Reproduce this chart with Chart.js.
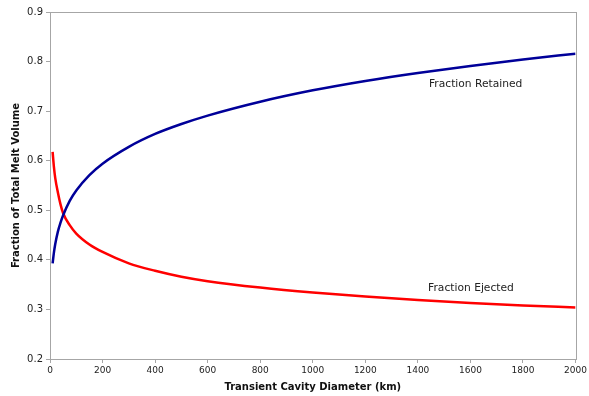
<!DOCTYPE html>
<html>
<head>
<meta charset="utf-8">
<script src="https://cdn.jsdelivr.net/npm/chart.js@4"></script>
<style>
  html, body { margin: 0; padding: 0; background: #fff; }
  #wrap { width: 589px; height: 396px; }
</style>
</head>
<body>
<div id="wrap"><canvas id="myChart"></canvas></div>
<script>
const diameters = [10, 15, 20, 30, 40, 50, 75, 100, 150, 200, 300, 400, 500, 600, 800, 1000, 1200, 1400, 1600, 1800, 2000];
const retained = [0.393, 0.415, 0.432, 0.457, 0.475, 0.490, 0.519, 0.540, 0.571, 0.594, 0.628, 0.654, 0.674, 0.691, 0.719, 0.742, 0.761, 0.777, 0.791, 0.804, 0.816];
const ejected  = [0.618, 0.587, 0.565, 0.536, 0.512, 0.494, 0.470, 0.453, 0.431, 0.416, 0.393, 0.378, 0.366, 0.357, 0.344, 0.334, 0.326, 0.319, 0.313, 0.308, 0.304];
const xTicks = [0, 200, 400, 600, 800, 1000, 1200, 1400, 1600, 1800, 2000];
const yTicks = [0.2, 0.3, 0.4, 0.5, 0.6, 0.7, 0.8, 0.9];

const font = 'Verdana, "DejaVu Sans", sans-serif';

// frame around plot area + curve labels
const extras = {
  id: 'extras',
  afterDraw(chart) {
    const ctx = chart.ctx;
    const a = chart.chartArea;
    const x = chart.scales.x, y = chart.scales.y;
    ctx.save();
    ctx.strokeStyle = '#a6a6a6';
    ctx.lineWidth = 1;
    ctx.strokeRect(Math.round(a.left) + 0.5, Math.round(a.top) + 0.5,
      Math.round(a.right - a.left), Math.round(a.bottom - a.top));
    ctx.fillStyle = '#222';
    ctx.font = '10.7px ' + font;
    ctx.textAlign = 'center';
    ctx.textBaseline = 'middle';
    ctx.fillText('Fraction Retained', x.getPixelForValue(1620), y.getPixelForValue(0.754));
    ctx.fillText('Fraction Ejected', x.getPixelForValue(1602), y.getPixelForValue(0.343));
    ctx.restore();
  }
};

const data = {
  datasets: [{
    label: 'Fraction Retained',
    data: diameters.map((d, i) => ({x: d, y: retained[i]})),
    borderColor: '#000099',
    borderWidth: 2.5,
    pointRadius: 0,
    cubicInterpolationMode: 'monotone',
    fill: false
  },
  {
    label: 'Fraction Ejected',
    data: diameters.map((d, i) => ({x: d, y: ejected[i]})),
    borderColor: '#ff0000',
    borderWidth: 2.5,
    pointRadius: 0,
    cubicInterpolationMode: 'monotone',
    fill: false
  }]
};

const config = {
  type: 'line',
  data: data,
  options: {
    responsive: true,
    maintainAspectRatio: false,
    animation: false,
    layout: { padding: { left: 4, right: 8, top: 12, bottom: 3 } },
    plugins: { legend: { display: false }, tooltip: { enabled: false } },
    scales: {
      x: {
        type: 'linear',
        min: 0, max: 2000,
        afterBuildTicks: s => { s.ticks = xTicks.map(v => ({value: v})); },
        afterFit: s => { s.height = 34; },
        grid: { drawOnChartArea: false, tickLength: 4, color: '#a6a6a6' },
        border: { color: '#a6a6a6' },
        ticks: { color: '#222', font: { family: font, size: 9 }, padding: 2, maxRotation: 0,
          callback: v => String(v) },
        title: { display: true, text: 'Transient Cavity Diameter (km)', color: '#111',
          font: { family: font, size: 10, weight: 'bold' }, padding: { top: 2, bottom: 0 } }
      },
      y: {
        min: 0.2, max: 0.9,
        afterBuildTicks: s => { s.ticks = yTicks.map(v => ({value: v})); },
        afterFit: s => { s.width = 46; },
        grid: { drawOnChartArea: false, tickLength: 4, color: '#a6a6a6' },
        border: { color: '#a6a6a6' },
        ticks: { color: '#222', font: { family: font, size: 10 }, padding: 3,
          callback: v => v.toFixed(1) },
        title: { display: true, text: 'Fraction of Total Melt Volume', color: '#111',
          font: { family: font, size: 10, weight: 'bold' }, padding: { top: 6, bottom: 0 } }
      }
    }
  },
  plugins: [extras]
};

var thisChart = new Chart(document.getElementById('myChart'), config);
</script>
</body>
</html>
